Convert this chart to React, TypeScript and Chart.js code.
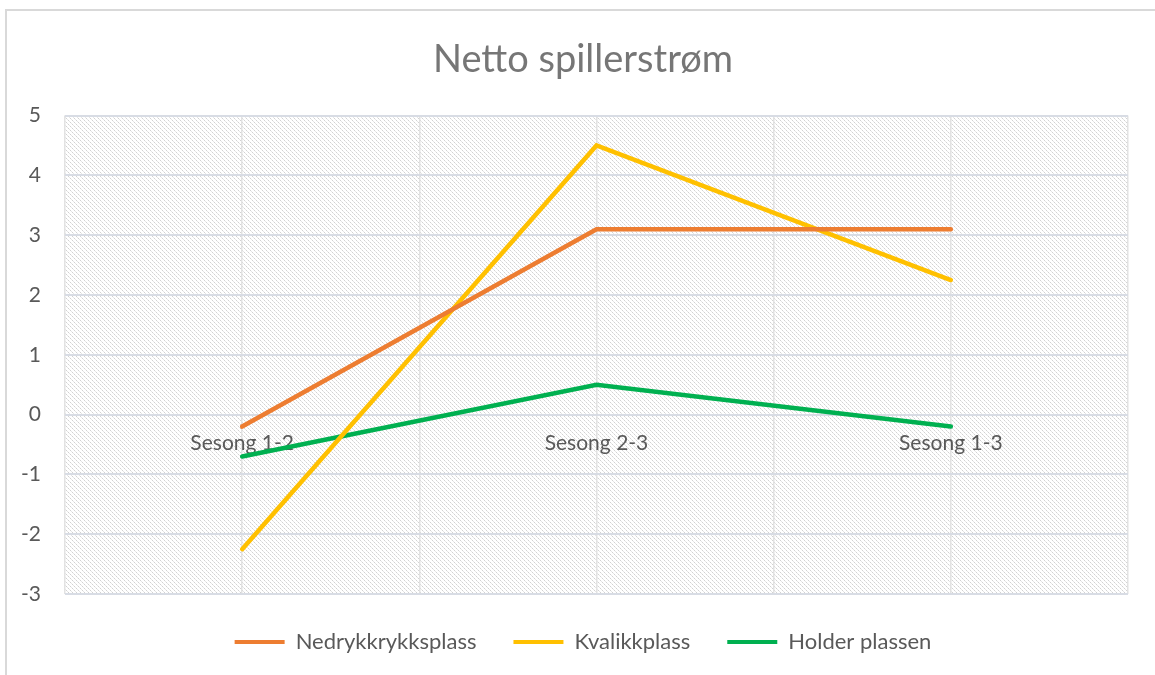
import React, { useEffect, useRef } from "react";
import { Chart, registerables } from "chart.js";

Chart.register(...registerables);

const title = "Netto spillerstrøm";
const categories = ["Sesong 1-2", "Sesong 2-3", "Sesong 1-3"];
const nedrykk = [-0.2, 3.1, 3.1];
const kvalikk = [-2.25, 4.5, 2.25];
const holder = [-0.7, 0.5, -0.2];
const seriesNames = ["Nedrykkrykksplass", "Kvalikkplass", "Holder plassen"];
const seriesColors = ["#ED7D31", "#FFC000", "#00B050"];
const yMin = -3;
const yMax = 5;

const FONT = "Lato, 'Noto Sans', sans-serif";

function makePattern(): CanvasPattern | string {
  const c = document.createElement("canvas");
  c.width = 8;
  c.height = 8;
  const g = c.getContext("2d");
  if (!g) return "#eeeeee";
  g.fillStyle = "#ffffff";
  g.fillRect(0, 0, 8, 8);
  for (let y = 0; y < 8; y++) {
    for (let k = 0; k < 2; k++) {
      const x = (y + k * 4) % 8;
      g.fillStyle = y % 2 === 0 ? "#d2d2d2" : "#e6e6e6";
      g.fillRect(x, y, 1, 1);
    }
  }
  const p = g.createPattern(c, "repeat");
  return p || "#eeeeee";
}

const backgroundPlugin = {
  id: "bgHatch",
  beforeDraw(chart: any) {
    const { ctx, chartArea } = chart;
    ctx.save();
    ctx.fillStyle = "#ffffff";
    ctx.fillRect(0, 0, chart.width, chart.height);
    ctx.fillStyle = makePattern();
    ctx.fillRect(chartArea.left, chartArea.top, chartArea.right - chartArea.left, chartArea.bottom - chartArea.top);
    ctx.strokeStyle = "#d9d9d9";
    ctx.lineWidth = 2;
    ctx.beginPath();
    ctx.moveTo(6, chart.height);
    ctx.lineTo(6, 10);
    ctx.lineTo(chart.width, 10);
    ctx.stroke();
    ctx.restore();
  },
};

export default function App() {
  const ref = useRef<HTMLCanvasElement | null>(null);
  useEffect(() => {
    if (!ref.current) return;
    const series = [nedrykk, kvalikk, holder];
    const chart = new Chart(ref.current, {
      type: "line",
      data: {
        datasets: series.map((vals, i) => ({
          label: seriesNames[i],
          data: vals.map((v, j) => ({ x: j, y: v })),
          borderColor: seriesColors[i],
          backgroundColor: seriesColors[i],
          borderWidth: 4.5,
          pointRadius: 0,
          borderCapStyle: "round" as const,
          borderJoinStyle: "miter" as const,
          tension: 0,
        })),
      },
      options: {
        responsive: false,
        maintainAspectRatio: false,
        animation: false,
        devicePixelRatio: 1,
        layout: { padding: { left: 38, right: 27, top: 0, bottom: 12 } },
        plugins: {
          tooltip: { enabled: false },
          title: {
            display: true,
            text: title,
            color: "#767676",
            font: { family: FONT, size: 38, weight: "normal" },
            padding: { top: 37, bottom: 33 },
          },
          legend: {
            position: "bottom",
            labels: {
              boxWidth: 50,
              boxHeight: 4,
              padding: 37,
              color: "#595959",
              font: { family: FONT, size: 22 },
              generateLabels: (ch: any) =>
                ch.data.datasets.map((ds: any, i: number) => ({
                  text: ds.label,
                  fillStyle: ds.borderColor,
                  strokeStyle: ds.borderColor,
                  lineWidth: 0,
                  hidden: false,
                  datasetIndex: i,
                  fontColor: "#595959",
                })),
            },
          },
        },
        scales: {
          x: {
            type: "linear",
            position: { y: 0 } as any,
            min: -0.5,
            max: 2.5,
            afterFit: (scale: any) => {
              scale.height = 0;
            },
            ticks: {
              stepSize: 0.5,
              autoSkip: false,
              padding: 16,
              color: "#595959",
              font: { family: FONT, size: 21 },
              callback: (value: any) => {
                const v = Number(value);
                return Number.isInteger(v) ? categories[v] : "";
              },
            },
            grid: { color: "#e2e2e2", lineWidth: 1.5, drawTicks: false },
            border: { display: false },
          },
          y: {
            type: "linear",
            min: yMin,
            max: yMax,
            afterFit: (scale: any) => {
              scale.width = 27;
              scale._computeLabelArea = () => undefined;
            },
            ticks: {
              stepSize: 1,
              padding: 24,
              color: "#595959",
              font: { family: FONT, size: 21 },
            },
            grid: { color: "#d8dce4", lineWidth: 2, drawTicks: false },
            border: { display: false },
          },
        },
      },
      plugins: [backgroundPlugin],
    });
    return () => chart.destroy();
  }, []);
  return (
    <div style={{ position: "absolute", left: 0, top: 0, width: 1155, height: 675, background: "#fff" }}>
      <canvas ref={ref} width={1155} height={675} style={{ display: "block" }} />
    </div>
  );
}
